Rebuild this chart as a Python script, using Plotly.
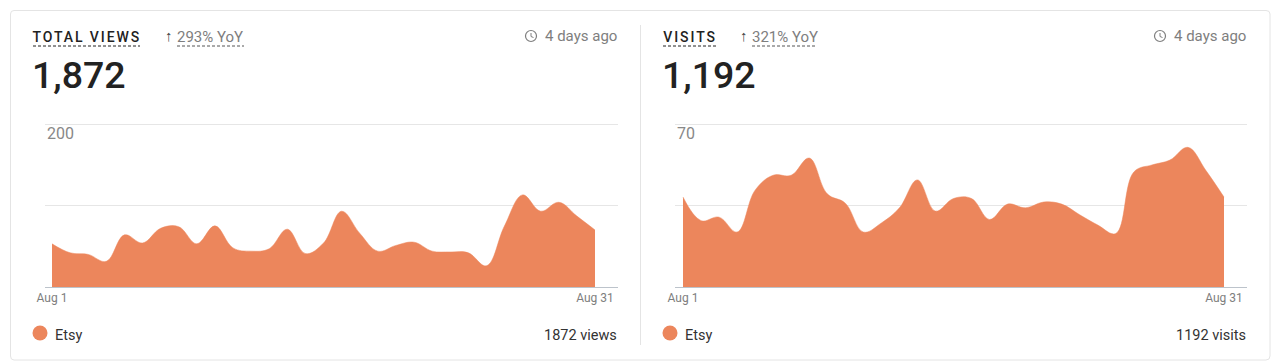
import plotly.graph_objects as go

W, H = 1280, 363
days = list(range(1, 32))
views = [53, 42, 40, 31.5, 64, 54, 72, 74, 53, 75, 48, 44, 47, 71, 41, 54, 93, 66, 44, 51, 55, 44, 43, 42, 26, 75, 113, 93, 104, 87, 70]
visits = [38.6, 28.5, 30, 23.6, 41.6, 48, 48, 55.4, 40, 36, 23.6, 27.5, 34, 46, 32.6, 38, 38, 29, 35.6, 34, 36.5, 35.6, 31, 26.6, 23, 49.4, 52.4, 54.5, 60, 50, 38.6]
views_ticks = [0, 100, 200]
visits_ticks = [0, 35, 70]
tick_days = [1, 31]
tick_labels = ["Aug 1", "Aug 31"]

ORANGE = "#EC865C"
DARK = "#222222"
GRAY = "#7E7E7E"
FONT = "Roboto"


def px(x):
    return x / W


def py(y):
    return 1 - y / H


fig = go.Figure()
panels = [
    (views, views_ticks, 45, 618, 52, 595, "x", "y"),
    (visits, visits_ticks, 675, 1247, 683, 1224, "x2", "y2"),
]
for vals, ticks, ax0, ax1, d0, d1, xa, ya in panels:
    fig.add_trace(go.Scatter(
        x=days, y=vals, xaxis=xa, yaxis=ya, mode="lines", fill="tozeroy",
        fillcolor=ORANGE, line=dict(color=ORANGE, width=0.5, shape="spline", smoothing=1.1),
        hoverinfo="skip", showlegend=False,
    ))
    step = (d1 - d0) / 30
    headroom = 1.03
    axis_x = dict(
        domain=[px(ax0), px(ax1)], range=[1 + (ax0 - d0) / step, 1 + (ax1 - d0) / step],
        tickmode="array", tickvals=tick_days, ticktext=tick_labels, ticks="", automargin=False,
        tickfont=dict(family=FONT, size=12, color=GRAY), showgrid=False, zeroline=False,
        showline=True, linecolor="#BCC3CB", linewidth=1, fixedrange=True,
    )
    axis_y = dict(
        domain=[py(287), py(287 - 163 * headroom)], range=[ticks[0], ticks[-1] * headroom],
        tickmode="array", tickvals=ticks, automargin=False,
        showticklabels=False, ticks="", showgrid=True, gridcolor="#E6E6E6", gridwidth=1,
        zeroline=False, showline=False, fixedrange=True,
    )
    if xa == "x":
        fig.update_layout(xaxis=axis_x, yaxis=axis_y)
    else:
        axis_x["anchor"] = "y2"
        axis_y["anchor"] = "x2"
        fig.update_layout(xaxis2=axis_x, yaxis2=axis_y)


def text(x, y, s, size, color=DARK, anchor="left", weight=None):
    fig.add_annotation(
        xref="paper", yref="paper", x=px(x), y=py(y), text=s, showarrow=False,
        xanchor=anchor, yanchor="middle", borderpad=0,
        font=dict(family=FONT, size=size, color=color, weight=weight),
    )


def line(x0, y0, x1, y1, color, width=1, dash=None):
    fig.add_shape(type="line", xref="paper", yref="paper", x0=px(x0), y0=py(y0), x1=px(x1), y1=py(y1),
                  line=dict(color=color, width=width, dash=dash), layer="above")


def circle(cx, cy, r, fill=None, stroke=None, width=1):
    fig.add_shape(type="circle", xref="paper", yref="paper", x0=px(cx - r), x1=px(cx + r), y0=py(cy - r), y1=py(cy + r),
                  fillcolor=fill or "rgba(0,0,0,0)", line=dict(color=stroke or "rgba(0,0,0,0)", width=width), layer="above")


# Card frame and divider
fig.add_shape(type="path", xref="paper", yref="paper",
              path=f"M {px(14)},{py(10.5)} L {px(1266)},{py(10.5)} Q {px(1270)},{py(10.5)} {px(1270)},{py(14)} "
                   f"L {px(1270)},{py(356)} Q {px(1270)},{py(360)} {px(1266)},{py(360)} L {px(14)},{py(360)} "
                   f"Q {px(10.5)},{py(360)} {px(10.5)},{py(356)} L {px(10.5)},{py(14)} Q {px(10.5)},{py(10.5)} {px(14)},{py(10.5)} Z",
              line=dict(color="#E4E4E4", width=1), layer="below")
line(640.5, 25, 640.5, 345, "#E4E4E4")

headers = [
    (33, 140, "TOTAL VIEWS", 9, 169, 177, 244, "293% YoY", 531, 617, "1,872", "200", 46, "1872 views", 40, 55),
    (663, 716, "VISITS", 5, 744, 752, 817, "321% YoY", 1160, 1246, "1,192", "70", 676, "1192 visits", 670, 685),
]
for x0, x1, title, tshift, ax, yx0, yx1, yoy, cx, ago_r, big, top, topx, total, dotx, etsyx in headers:
    text(x0 + tshift, 37.5, title, 14, DARK, weight=500)
    line(x0, 46, x1, 46, DARK, 1, "3px,2px")
    text(ax, 36, "↑", 15, "#444444", anchor="center", weight=700)
    text(yx0 - 1, 37.5, yoy, 15, GRAY)
    line(yx0, 46, yx1, 46, "#555555", 1, "3px,2px")
    circle(cx, 36, 5.5, stroke=GRAY, width=1.2)
    line(cx, 33, cx, 36.5, GRAY, 1)
    line(cx, 36.5, cx + 2.5, 37.5, GRAY, 1)
    text(ago_r + 1, 36, "4 days ago", 15, GRAY, anchor="right")
    text(x0 - 2, 75, big, 37.5, DARK, weight=500)
    text(topx, 133, top, 16, "#888888")
    circle(dotx, 333, 7.5, fill=ORANGE)
    text(etsyx - 1, 335, "Etsy", 14.5, "#333333")
    text(ago_r + 1, 335, total, 14.5, "#333333", anchor="right")

fig.update_layout(
    width=W, height=H, autosize=False, margin=dict(l=0, r=0, t=0, b=0, pad=0),
    paper_bgcolor="white", plot_bgcolor="white", showlegend=False,
)

spacing = """
document.body.style.margin = '0';
document.body.style.overflow = 'hidden';
document.querySelectorAll('.annotation-text').forEach(function (t) {
  var s = t.textContent;
  if (s === 'TOTAL VIEWS' || s === 'VISITS') { t.style.letterSpacing = '1.9px'; }
});
"""
fig.write_html("out.html", post_script=spacing, config={"displayModeBar": False})
